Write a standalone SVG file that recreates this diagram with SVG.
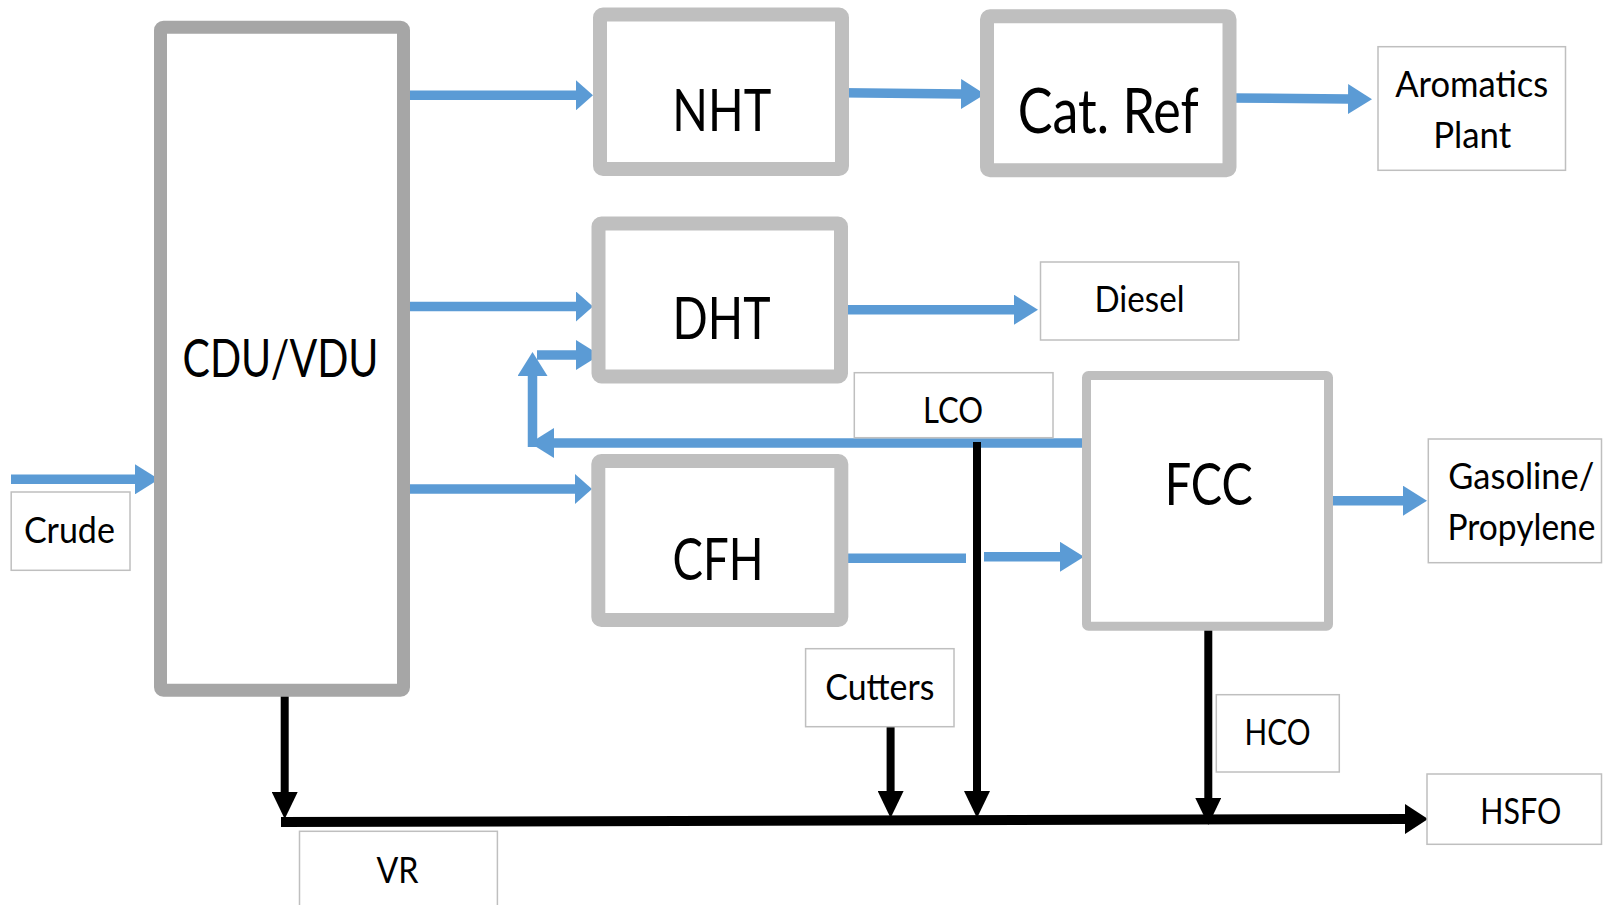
<svg xmlns="http://www.w3.org/2000/svg" width="1603" height="905" viewBox="0 0 1603 905">
<style>
.unit{fill:#fff;stroke:#bfbfbf;stroke-width:14}
.cdu{fill:#fff;stroke:#a6a6a6;stroke-width:13}
.lbl{fill:#fff;stroke:#bfbfbf;stroke-width:1.5}
.big{font-family:Lato,"Open Sans",sans-serif;font-size:59px;fill:#000;text-anchor:middle}
.sm{font-family:Lato,"Open Sans",sans-serif;font-size:37px;fill:#000;text-anchor:middle}
.b{fill:none;stroke:#5b9bd5;stroke-width:9.5}
.k{fill:none;stroke:#000;stroke-width:8}
</style>
<defs>
<marker id="bh" viewBox="0 0 24 30" markerWidth="24" markerHeight="30" refX="1" refY="15" orient="auto" markerUnits="userSpaceOnUse"><path d="M0,0 L24,15 L0,30 z" fill="#5b9bd5"/></marker>
<marker id="bhs" viewBox="0 0 17 30" markerWidth="17" markerHeight="30" refX="1" refY="15" orient="auto" markerUnits="userSpaceOnUse"><path d="M0,0 L17,15 L0,30 z" fill="#5b9bd5"/></marker>
<marker id="kh" viewBox="0 0 27 26" markerWidth="27" markerHeight="26" refX="1" refY="13" orient="auto" markerUnits="userSpaceOnUse"><path d="M0,0 L27,13 L0,26 z" fill="#000"/></marker>
<marker id="khb" viewBox="0 0 23 30" markerWidth="23" markerHeight="30" refX="1" refY="15" orient="auto" markerUnits="userSpaceOnUse"><path d="M0,0 L23,15 L0,30 z" fill="#000"/></marker>
</defs>

<g id="connectors">
<path class="b" d="M405,95.3 H577" marker-end="url(#bhs)"/>
<path class="b" d="M409,306.5 H577" marker-end="url(#bhs)"/>
<path class="b" d="M409,489 H576" marker-end="url(#bhs)"/>
<path class="b" d="M11,479.3 H136" marker-end="url(#bh)"/>
<path class="b" d="M842,92.7 L962,94" marker-end="url(#bh)"/>
<path class="b" d="M1230,98 L1349,99" marker-end="url(#bh)"/>
<path class="b" d="M841,309.7 H1015" marker-end="url(#bh)"/>
<path class="b" d="M1329,500.7 H1404" marker-end="url(#bh)"/>
<path class="b" d="M842,558.3 H966"/>
<path class="b" d="M984,556.8 H1061" marker-end="url(#bh)"/>
<path class="b" d="M1085,443 H553" marker-end="url(#bh)"/>
<path class="b" d="M532.5,447 V375" marker-end="url(#bh)"/>
<path class="b" d="M537,355 H577" marker-end="url(#bh)"/>
<path class="k" d="M284.7,688 V793" marker-end="url(#kh)"/>
<path class="k" d="M890.6,727 V792" marker-end="url(#kh)"/>
<path class="k" d="M977,442 V792" marker-end="url(#kh)"/>
<path class="k" d="M1208.3,629 V799" marker-end="url(#kh)"/>
<path class="k" d="M281,822 L1406,819" style="stroke-width:10" marker-end="url(#khb)"/>
</g>

<g id="cdu"><rect class="cdu" x="160.5" y="27.2" width="243" height="663" rx="3"/><text class="big" x="280.5" y="377.3" style="font-size:51.6px" textLength="196" lengthAdjust="spacingAndGlyphs">CDU/VDU</text></g>
<g id="nht"><rect class="unit" x="600" y="14.5" width="242" height="154.5" rx="3"/><text class="big" x="721.8" y="130.7" textLength="99" lengthAdjust="spacingAndGlyphs">NHT</text></g>
<g id="catref"><rect class="unit" x="987" y="16.2" width="242.5" height="154" rx="3"/><text class="big" x="1108.3" y="132.7" style="font-size:61px" textLength="181" lengthAdjust="spacingAndGlyphs">Cat. Ref</text></g>
<g id="dht"><rect class="unit" x="598.5" y="223.5" width="242.5" height="153" rx="3"/><text class="big" x="721.5" y="339.3" textLength="98" lengthAdjust="spacingAndGlyphs">DHT</text></g>
<g id="cfh"><rect class="unit" x="598.3" y="461" width="243" height="159" rx="3"/><text class="big" x="718" y="580" textLength="91" lengthAdjust="spacingAndGlyphs">CFH</text></g>
<g id="fcc"><rect class="unit" x="1086.5" y="375.5" width="242" height="250.7" rx="2" style="stroke-width:9"/><text class="big" x="1208.7" y="505" textLength="88" lengthAdjust="spacingAndGlyphs">FCC</text></g>

<g id="aromatics"><rect class="lbl" x="1378" y="46.7" width="187.5" height="123.6"/><text class="sm" x="1471.7" y="96.7" textLength="153" lengthAdjust="spacingAndGlyphs">Aromatics</text><text class="sm" x="1472.3" y="147.7" textLength="78" lengthAdjust="spacingAndGlyphs">Plant</text></g>
<g id="diesel"><rect class="lbl" x="1040.5" y="262" width="198.3" height="78"/><text class="sm" x="1139.5" y="311.7" textLength="90" lengthAdjust="spacingAndGlyphs">Diesel</text></g>
<g id="lco"><rect class="lbl" x="854.3" y="372.7" width="198.7" height="65"/><text class="sm" x="953" y="422.7" textLength="60" lengthAdjust="spacingAndGlyphs">LCO</text></g>
<g id="gasoline"><rect class="lbl" x="1428.3" y="439" width="173.2" height="123.7"/><text class="sm" x="1521.3" y="489" textLength="146" lengthAdjust="spacingAndGlyphs">Gasoline/</text><text class="sm" x="1521.5" y="540" textLength="148" lengthAdjust="spacingAndGlyphs">Propylene</text></g>
<g id="hsfo"><rect class="lbl" x="1427" y="774" width="174.5" height="70.3"/><text class="sm" x="1520.8" y="824.3" textLength="81" lengthAdjust="spacingAndGlyphs">HSFO</text></g>
<g id="hco"><rect class="lbl" x="1216.3" y="694.7" width="123" height="77.3"/><text class="sm" x="1277.5" y="745" textLength="66" lengthAdjust="spacingAndGlyphs">HCO</text></g>
<g id="cutters"><rect class="lbl" x="805.6" y="648.7" width="148.4" height="78"/><text class="sm" x="879.8" y="700" textLength="109" lengthAdjust="spacingAndGlyphs">Cutters</text></g>
<g id="crude"><rect class="lbl" x="11.2" y="492" width="118.8" height="78.3"/><text class="sm" x="69.4" y="542.7" textLength="91" lengthAdjust="spacingAndGlyphs">Crude</text></g>
<g id="vr"><rect class="lbl" x="299.5" y="831.3" width="197.9" height="80"/><text class="sm" x="397.5" y="882.7" textLength="42" lengthAdjust="spacingAndGlyphs">VR</text></g>
</svg>
